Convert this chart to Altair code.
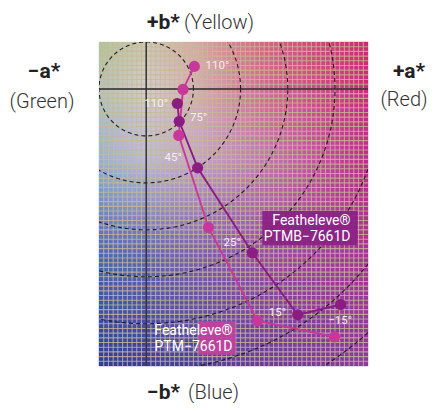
import altair as alt
import numpy as np
import pandas as pd

# ---- data ----
angles = ["110°", "75°", "45°", "25°", "15°", "−15°"]
ptmb_a = [6.6, 7.0, 10.9, 22.5, 32.1, 41.2]
ptmb_b = [-3.1, -6.9, -16.8, -34.9, -48.1, -45.9]
ptm_a = [10.2, 7.8, 6.9, 13.2, 23.6, 39.9]
ptm_b = [4.8, -0.1, -9.9, -29.5, -49.4, -52.8]

label_text = ["110°", "110°", "75°", "45°", "25°", "15°", "−15°"]
label_a = [15.1, 2.1, 11.1, 5.7, 18.2, 27.8, 41.1]
label_b = [4.8, -3.3, -6.1, -14.6, -32.7, -47.7, -49.4]

series_names = ["PTMB", "PTM"]
series_colors = ["#8a1c82", "#c8389a"]
box_colors = ["#8a2284", "#c0409e"]
box_a1 = [24.6, 11.1]
box_a2 = [44.8, 18.9]
box_b1 = [-26.0, -49.4]
box_b2 = [-33.3, -56.6]
box_line1 = ["Featheleve®", "Featheleve®"]
box_line2 = ["PTMB−7661D", "PTM−7661D"]
box_text_a = [43.3, 18.3]
box_line1_b = [-29.0, -52.3]
box_line2_b = [-32.3, -55.7]

ring_radii = [10, 20, 30, 40, 50, 60, 70]

a_domain = [-10, 47]
b_domain = [-59, 10]

# background colour anchors (style)
anchor_a = [-10, 0, 10, 25, 47]
anchor_b = [10, 0, -15, -35, -59]
anchor_hex = [
    ["#b0c498", "#ccc8b4", "#d6aca4", "#d86480", "#d02870"],
    ["#b4c4b8", "#d4ccca", "#d6b2ba", "#d26c94", "#cc2a80"],
    ["#98b2d4", "#bcbcd6", "#c6a6ca", "#c278ae", "#c02c8c"],
    ["#4c68b8", "#6268b8", "#7a60b4", "#9a4ca8", "#ac3098"],
    ["#2c3c9c", "#3a3ca0", "#4840a0", "#6a3aa0", "#8c3aa0"],
]


def hex2rgb(h):
    return [int(h[i:i + 2], 16) for i in (1, 3, 5)]


agrid = np.array([[hex2rgb(h) for h in row] for row in anchor_hex], float)


def color_at(a, b):
    rows = np.array([[np.interp(a, anchor_a, agrid[i, :, c]) for c in range(3)]
                     for i in range(len(anchor_b))])
    bb = anchor_b[::-1]
    rows = rows[::-1]
    rgb = [np.interp(b, bb, rows[:, c]) for c in range(3)]
    return "#%02x%02x%02x" % tuple(int(round(v)) for v in rgb)


cells = []
for a0 in range(a_domain[0], a_domain[1]):
    for b0 in range(b_domain[0], b_domain[1]):
        cells.append({"a": a0, "a2": a0 + 1, "b": b0, "b2": b0 + 1,
                      "col": color_at(a0 + 0.5, b0 + 0.5)})
bg_df = pd.DataFrame(cells)

vgrid_df = pd.DataFrame({"a": list(range(a_domain[0] + 1, a_domain[1]))})
hgrid_df = pd.DataFrame({"b": list(range(b_domain[0] + 1, b_domain[1]))})

theta = np.linspace(0, 2 * np.pi, 361)
ring_rows = []
for r in ring_radii:
    for i, t in enumerate(theta):
        ring_rows.append({"r": r, "i": i, "a": r * np.cos(t), "b": r * np.sin(t)})
ring_df = pd.DataFrame(ring_rows)

pts = []
for name, aa, bb in [("PTMB", ptmb_a, ptmb_b), ("PTM", ptm_a, ptm_b)]:
    for k, (x, y) in enumerate(zip(aa, bb)):
        pts.append({"series": name, "order": k, "angle": angles[k], "a": x, "b": y})
pts_df = pd.DataFrame(pts)

lab_df = pd.DataFrame({"t": label_text, "a": label_a, "b": label_b})

box_df = pd.DataFrame({"a1": box_a1, "a2": box_a2, "b1": box_b1, "b2": box_b2,
                       "col": box_colors, "ta": box_text_a,
                       "l1": box_line1, "l2": box_line2,
                       "l1b": box_line1_b, "l2b": box_line2_b})

xs = alt.Scale(domain=a_domain, nice=False, zero=False)
ys = alt.Scale(domain=b_domain, nice=False, zero=False)
X = lambda f: alt.X(f, type="quantitative", scale=xs, axis=None)
Y = lambda f: alt.Y(f, type="quantitative", scale=ys, axis=None)

bg = alt.Chart(bg_df).mark_rect(strokeWidth=0.4).encode(
    x=X("a"), x2="a2", y=Y("b"), y2="b2",
    fill=alt.Fill("col:N", scale=None), stroke=alt.Stroke("col:N", scale=None))

vgrid = alt.Chart(vgrid_df).mark_rule(color="#c6b894", opacity=0.75, strokeWidth=1.1).encode(x=X("a"))
hgrid = alt.Chart(hgrid_df).mark_rule(color="#c6b894", opacity=0.75, strokeWidth=1.1).encode(y=Y("b"))

rings = alt.Chart(ring_df).mark_line(clip=True, color="#111111", strokeWidth=1.1,
                                     strokeDash=[4, 3], opacity=0.9).encode(
    x=X("a"), y=Y("b"), detail="r:N", order="i:Q")

axes_v = alt.Chart(pd.DataFrame({"a": [0]})).mark_rule(color="#2a2a2a", strokeWidth=1.4).encode(x=X("a"))
axes_h = alt.Chart(pd.DataFrame({"b": [0]})).mark_rule(color="#2a2a2a", strokeWidth=1.4).encode(y=Y("b"))

cscale = alt.Scale(domain=series_names, range=series_colors)

lines = alt.Chart(pts_df).mark_line(strokeWidth=1.9).encode(
    x=X("a"), y=Y("b"), color=alt.Color("series:N", scale=cscale, legend=None),
    detail="series:N", order="order:Q")

points = alt.Chart(pts_df).mark_circle(size=125, opacity=1).encode(
    x=X("a"), y=Y("b"), color=alt.Color("series:N", scale=cscale, legend=None))

labels = alt.Chart(lab_df).mark_text(font="Roboto", fontSize=11.5, color="#f4eef4",
                                     align="center", baseline="middle").encode(
    x=X("a"), y=Y("b"), text="t:N")

boxes = alt.Chart(box_df).mark_rect(opacity=0.95).encode(
    x=X("a1"), x2="a2", y=Y("b1"), y2="b2", fill=alt.Fill("col:N", scale=None))
box_t1 = alt.Chart(box_df).mark_text(font="Roboto", fontSize=14, color="white",
                                     align="right", baseline="alphabetic").encode(
    x=X("ta"), y=Y("l1b"), text="l1:N")
box_t2 = alt.Chart(box_df).mark_text(font="Roboto", fontSize=14, color="white",
                                     align="right", baseline="alphabetic").encode(
    x=X("ta"), y=Y("l2b"), text="l2:N")

# outer axis captions (pixel positions relative to plot area)
bold_df = pd.DataFrame({"t": ["+b*", "−a*", "+a*", "−b*"],
                        "px": [48, -55, 310, 48], "py": [-13, 36, 36, 357],
                        "al": ["left", "center", "center", "left"]})
light_df = pd.DataFrame({"t": ["(Yellow)", "(Green)", "(Red)", "(Blue)"],
                         "px": [85, -57, 305, 89], "py": [-13, 66, 64, 357]})

bold_l = alt.Chart(bold_df[bold_df.al == "left"]).mark_text(
    font="Roboto", fontSize=21, fontWeight="bold", color="#222", align="left",
    baseline="alphabetic").encode(x=alt.X("px:Q", scale=None), y=alt.Y("py:Q", scale=None), text="t:N")
bold_c = alt.Chart(bold_df[bold_df.al == "center"]).mark_text(
    font="Roboto", fontSize=21, fontWeight="bold", color="#222", align="center",
    baseline="alphabetic").encode(x=alt.X("px:Q", scale=None), y=alt.Y("py:Q", scale=None), text="t:N")
light_l = alt.Chart(light_df.iloc[[0, 3]]).mark_text(
    font="Roboto", fontSize=20, fontWeight=300, color="#333", align="left",
    baseline="alphabetic").encode(x=alt.X("px:Q", scale=None), y=alt.Y("py:Q", scale=None), text="t:N")
light_c = alt.Chart(light_df.iloc[[1, 2]]).mark_text(
    font="Roboto", fontSize=20, fontWeight=300, color="#333", align="center",
    baseline="alphabetic").encode(x=alt.X("px:Q", scale=None), y=alt.Y("py:Q", scale=None), text="t:N")

chart = alt.layer(
    bg, vgrid, hgrid, rings, axes_v, axes_h, boxes, box_t1, box_t2,
    lines, points, labels, bold_l, bold_c, light_l, light_c
).properties(
    width=269, height=324,
    autosize=alt.AutoSizeParams(type="none"),
    padding={"left": 91, "top": 34, "right": 61, "bottom": 37},
    background="white",
).configure_view(stroke=None)

chart.save("out.html", embed_options={"renderer": "svg", "actions": False})
